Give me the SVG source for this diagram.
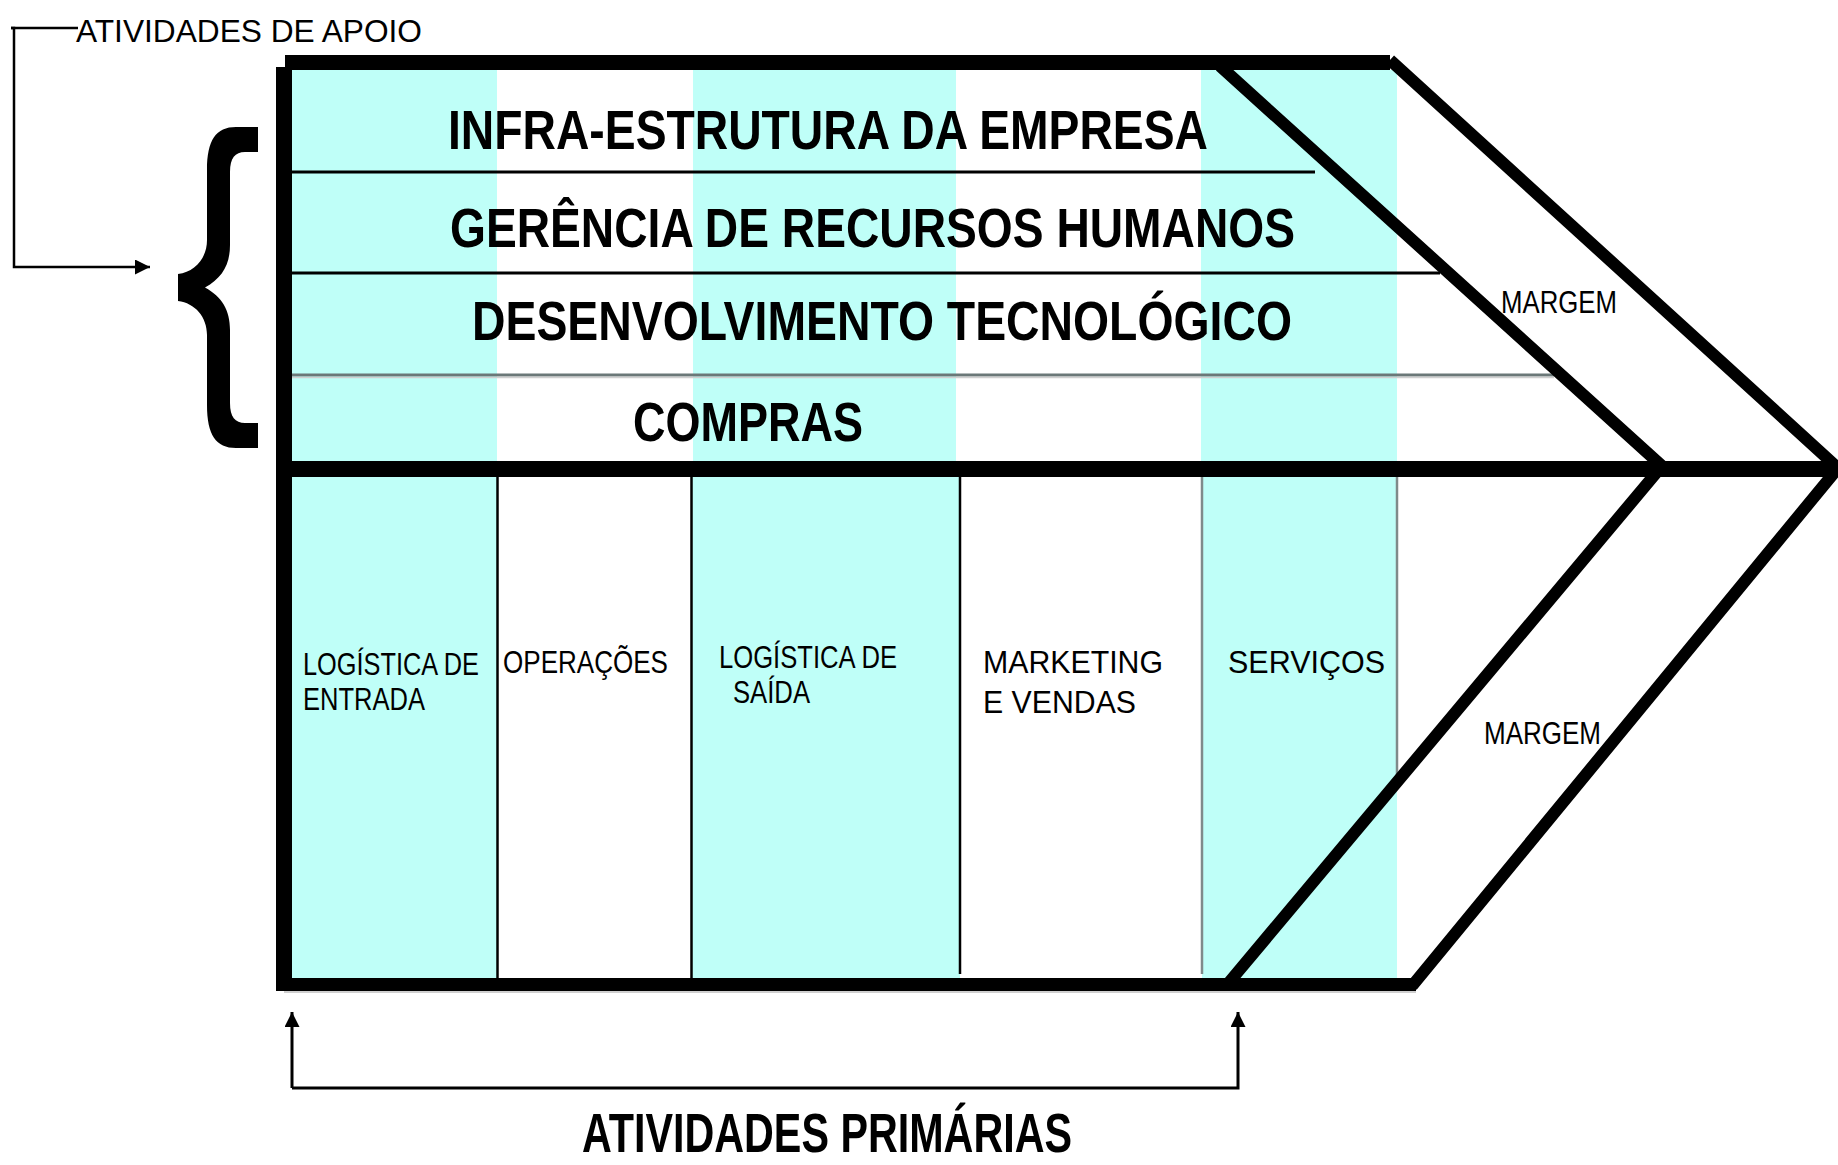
<svg xmlns="http://www.w3.org/2000/svg" width="1838" height="1165" viewBox="0 0 1838 1165">
<defs>
<style>
.cy{fill:#BFFFF8}
.big{font-family:"Liberation Sans",Arial,sans-serif;font-weight:bold;font-size:56px;fill:#000}
.sm{font-family:"Liberation Sans",Arial,sans-serif;font-size:31px;fill:#000}
.thick{stroke:#000;fill:none}
.row{stroke:#000;stroke-width:3}
.div{stroke:#000;stroke-width:2.5}
.gdiv{stroke:#7f8a8a;stroke-width:2.5}
.conn{stroke:#000;fill:none}
</style>
<marker id="ah" viewBox="0 0 10 10" refX="10" refY="5" markerWidth="18" markerHeight="15" markerUnits="userSpaceOnUse" orient="auto">
<path d="M0,0 L10,5 L0,10 Z" fill="#000"/>
</marker>
</defs>
<rect width="1838" height="1165" fill="#fff"/>

<!-- backgrounds -->
<g id="fills">
<rect class="cy" x="292" y="70" width="205" height="391"/>
<rect class="cy" x="693" y="70" width="263" height="391"/>
<rect class="cy" x="1201" y="70" width="196" height="391"/>
<rect class="cy" x="292" y="477" width="205" height="501"/>
<rect class="cy" x="692" y="477" width="268" height="501"/>
<rect class="cy" x="1202" y="477" width="195" height="501"/>
</g>

<g id="support-activities">
<g id="infra">
<text class="big" x="448" y="149" textLength="760" lengthAdjust="spacingAndGlyphs">INFRA-ESTRUTURA DA EMPRESA</text>
<line class="row" x1="292" y1="172" x2="1315" y2="172"/>
</g>
<g id="rh">
<text class="big" x="450" y="247" textLength="845" lengthAdjust="spacingAndGlyphs">GERÊNCIA DE RECURSOS HUMANOS</text>
<line class="row" x1="292" y1="273" x2="1440" y2="273"/>
</g>
<g id="tec">
<text class="big" x="472" y="340" textLength="820" lengthAdjust="spacingAndGlyphs">DESENVOLVIMENTO TECNOLÓGICO</text>
<line x1="292" y1="375" x2="1554" y2="375" stroke="#6b7878" stroke-width="3"/>
<line x1="292" y1="377.5" x2="1554" y2="377.5" stroke="#d0d0d0" stroke-width="1.5"/>
</g>
<g id="compras">
<text class="big" x="633" y="441" textLength="230" lengthAdjust="spacingAndGlyphs">COMPRAS</text>
</g>
</g>

<g id="primary-activities">
<g id="log-entrada">
<text class="sm" x="303" y="675" textLength="176" lengthAdjust="spacingAndGlyphs">LOGÍSTICA DE</text>
<text class="sm" x="303" y="710" textLength="122" lengthAdjust="spacingAndGlyphs">ENTRADA</text>
<line class="div" x1="497.5" y1="477" x2="497.5" y2="978"/>
</g>
<g id="operacoes">
<text class="sm" x="503" y="673" textLength="165" lengthAdjust="spacingAndGlyphs">OPERAÇÕES</text>
<line class="div" x1="691.5" y1="477" x2="691.5" y2="978"/>
</g>
<g id="log-saida">
<text class="sm" x="719" y="668" textLength="178" lengthAdjust="spacingAndGlyphs">LOGÍSTICA DE</text>
<text class="sm" x="733" y="703" textLength="77" lengthAdjust="spacingAndGlyphs">SAÍDA</text>
<line class="div" x1="960" y1="477" x2="960" y2="974"/>
</g>
<g id="marketing">
<text class="sm" x="983" y="673" font-size="33" textLength="180" lengthAdjust="spacingAndGlyphs">MARKETING</text>
<text class="sm" x="983" y="713" font-size="33" textLength="153" lengthAdjust="spacingAndGlyphs">E VENDAS</text>
<line class="gdiv" x1="1202" y1="477" x2="1202" y2="974"/>
</g>
<g id="servicos">
<text class="sm" x="1228" y="673" font-size="33" textLength="157" lengthAdjust="spacingAndGlyphs">SERVIÇOS</text>
<line class="gdiv" x1="1397" y1="477" x2="1397" y2="785"/>
</g>
</g>

<g id="frame">
<line class="thick" x1="285" y1="62.5" x2="1390" y2="62.5" stroke-width="15"/>
<line class="thick" x1="284" y1="67" x2="284" y2="991" stroke-width="16"/>
<line class="thick" x1="284" y1="469" x2="1838" y2="469" stroke-width="16"/>
<line class="thick" x1="276" y1="984.5" x2="1416" y2="984.5" stroke-width="13"/>
<line x1="284" y1="992" x2="1416" y2="992" stroke="#cfcfcf" stroke-width="2"/>
<polyline class="thick" points="1220,66 1662,466 1226,986" stroke-width="12" stroke-linejoin="round"/>
<polyline class="thick" points="1390,60 1838,468 1412,986" stroke-width="12" stroke-linejoin="round"/>
</g>

<g id="margem-top">
<text class="sm" x="1501" y="313" textLength="116" lengthAdjust="spacingAndGlyphs">MARGEM</text>
</g>
<g id="margem-bottom">
<text class="sm" x="1484" y="744" textLength="117" lengthAdjust="spacingAndGlyphs">MARGEM</text>
</g>

<g id="brace">
<path d="M258,127 L258,152 L245,152 C235,152 230,158 230,172 L230,245 C230,265 222,278 205,287.5 C222,297 230,310 230,330 L230,403 C230,417 235,423 245,423 L258,423 L258,448 L236,448 C216,448 207,435 207,405 L207,335 C207,317 195,303 178,301 L178,274 C195,272 207,258 207,240 L207,170 C207,140 216,127 236,127 Z" fill="#000"/>
</g>

<g id="label-apoio">
<text class="sm" x="76" y="42" font-size="37" textLength="346" lengthAdjust="spacingAndGlyphs">ATIVIDADES DE APOIO</text>
</g>
<g id="label-primarias">
<text class="big" x="582" y="1152" font-size="45" textLength="490" lengthAdjust="spacingAndGlyphs">ATIVIDADES PRIMÁRIAS</text>
</g>

<g id="connectors">
<polyline class="conn" stroke-width="2.5" points="11,28 14,28 14,267 150,267" marker-end="url(#ah)"/>
<line class="conn" stroke-width="2.5" x1="11" y1="28" x2="78" y2="28"/>
<polyline class="conn" stroke-width="3" points="292,1088 292,1012" marker-end="url(#ah)"/>
<polyline class="conn" stroke-width="3" points="292,1088 1238,1088 1238,1012" marker-end="url(#ah)"/>
</g>
</svg>
